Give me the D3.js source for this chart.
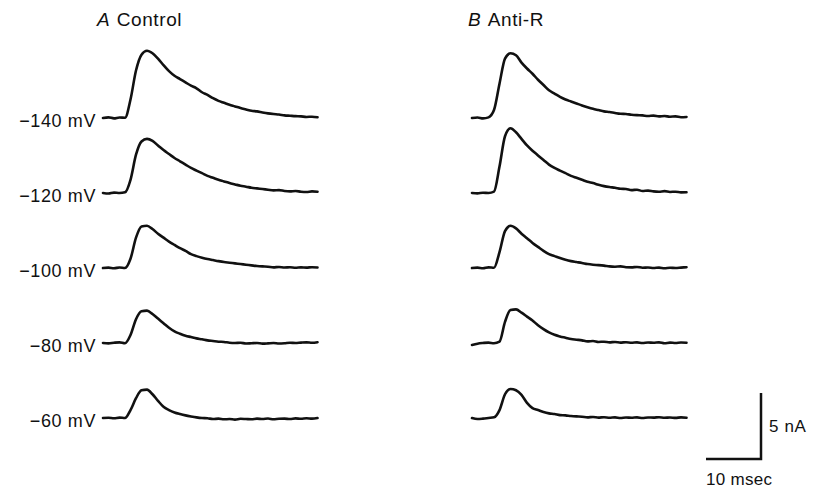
<!DOCTYPE html>
<html>
<head>
<meta charset="utf-8">
<script src="https://cdn.jsdelivr.net/npm/d3@7"></script>
<style>
  body { margin: 0; background: #fff; }
  text { font-family: "Liberation Sans", Arial, Helvetica, sans-serif; fill: #111; }
</style>
</head>
<body>
<div id="chart"></div>
<script>
// time base shared by every sweep (msec)
var times = d3.range(0, 40, 1);

// holding potentials, top to bottom
var voltages = [-140, -120, -100, -80, -60];
var voltageLabels = ["\u2212140 mV", "\u2212120 mV", "\u2212100 mV", "\u221280 mV", "\u221260 mV"];

// panel A: control currents (nA), one array per holding potential
var controlM140 = [0, 0.05, -0.03, 0.04, 0.02, 1.4, 3.6, 4.8, 5.1, 4.9, 4.5, 4.0, 3.55, 3.2, 2.95, 2.7, 2.45, 2.25, 1.95, 1.75, 1.5, 1.3, 1.15, 1.0, 0.88, 0.75, 0.65, 0.55, 0.5, 0.42, 0.35, 0.3, 0.26, 0.2, 0.17, 0.14, 0.12, 0.08, 0.1, 0.06];
var controlM120 = [0, -0.04, 0.03, 0, 0.05, 1.0, 2.9, 3.9, 4.1, 3.95, 3.6, 3.25, 2.95, 2.65, 2.4, 2.15, 1.9, 1.7, 1.5, 1.3, 1.15, 1.0, 0.88, 0.75, 0.65, 0.55, 0.48, 0.4, 0.35, 0.3, 0.25, 0.2, 0.22, 0.15, 0.12, 0.15, 0.1, 0.08, 0.12, 0.1];
var controlM100 = [0, 0.03, -0.02, 0.04, 0, 0.7, 2.3, 3.15, 3.2, 2.95, 2.6, 2.3, 2.0, 1.75, 1.5, 1.3, 1.05, 0.9, 0.78, 0.68, 0.6, 0.52, 0.45, 0.4, 0.35, 0.3, 0.25, 0.2, 0.15, 0.12, 0.1, 0.05, 0.08, 0.04, 0.06, 0.02, 0.05, 0.03, 0.06, 0.04];
var controlM80 = [0, -0.03, 0.02, 0.05, -0.02, 0.6, 1.8, 2.4, 2.45, 2.2, 1.85, 1.5, 1.15, 0.88, 0.7, 0.55, 0.45, 0.35, 0.28, 0.2, 0.15, 0.1, 0.08, 0.02, 0, 0.02, -0.04, -0.02, 0, -0.05, -0.03, 0, -0.04, -0.02, 0.02, 0, 0.03, 0.05, 0.02, 0.06];
var controlM60 = [0, 0.02, -0.02, 0.03, 0, 0.6, 1.5, 2.1, 2.15, 1.8, 1.3, 0.85, 0.6, 0.42, 0.3, 0.2, 0.12, 0.05, 0, -0.02, -0.08, -0.05, -0.1, -0.08, -0.12, -0.06, -0.08, -0.1, -0.05, -0.08, -0.04, -0.1, -0.06, -0.05, -0.08, -0.03, -0.06, -0.02, -0.05, 0];

// panel B: anti-R currents (nA)
var antiM140 = [0, 0.04, -0.03, 0.05, 0.6, 2.6, 4.5, 4.9, 4.75, 4.2, 3.75, 3.35, 2.9, 2.5, 2.1, 1.85, 1.6, 1.4, 1.25, 1.1, 0.95, 0.82, 0.7, 0.6, 0.5, 0.45, 0.38, 0.32, 0.3, 0.25, 0.22, 0.2, 0.15, 0.18, 0.12, 0.15, 0.1, 0.12, 0.06, 0.08];
var antiM120 = [0, -0.03, 0.02, 0, 0.1, 2.0, 4.3, 4.9, 4.6, 4.1, 3.6, 3.2, 2.85, 2.5, 2.15, 1.9, 1.7, 1.5, 1.3, 1.15, 1.0, 0.85, 0.75, 0.62, 0.52, 0.45, 0.4, 0.32, 0.3, 0.22, 0.25, 0.15, 0.18, 0.12, 0.1, 0.14, 0.08, 0.1, 0.05, 0.06];
var antiM100 = [0, 0.03, -0.02, 0.05, 0.02, 1.2, 2.8, 3.2, 3.0, 2.6, 2.25, 1.9, 1.6, 1.3, 1.05, 0.9, 0.75, 0.62, 0.52, 0.45, 0.38, 0.3, 0.25, 0.22, 0.18, 0.12, 0.1, 0.12, 0.06, 0.05, 0.08, 0.02, 0.04, 0, 0.03, -0.02, 0.02, 0, 0.03, 0.06];
var antiM80 = [-0.15, -0.05, 0, 0.03, -0.02, 0.1, 1.6, 2.5, 2.55, 2.3, 2.0, 1.7, 1.35, 1.05, 0.8, 0.62, 0.5, 0.4, 0.3, 0.25, 0.2, 0.12, 0.15, 0.08, 0.1, 0.05, 0.08, 0.03, 0.06, 0.02, 0.05, 0, 0.04, 0.02, 0.05, -0.02, 0.03, 0, 0.04, 0.02];
var antiM60 = [0, -0.08, -0.05, 0, 0.05, 0.6, 1.8, 2.2, 2.1, 1.75, 1.15, 0.75, 0.6, 0.45, 0.35, 0.3, 0.22, 0.2, 0.15, 0.12, 0.1, 0.05, 0.08, 0.03, 0.06, 0.02, 0.05, 0, 0.04, 0.02, 0.05, 0, 0.04, 0.03, 0.06, 0.02, 0.04, 0.01, 0.05, 0.02];

var panelTitles = [["A", "Control"], ["B", "Anti-R"]];
var controlSweeps = [controlM140, controlM120, controlM100, controlM80, controlM60];
var antiSweeps = [antiM140, antiM120, antiM100, antiM80, antiM60];

// scale bar sizes
var barTime = 10;   // msec
var barCurrent = 5; // nA

var width = 813, height = 491;

var svg = d3.select("#chart").append("svg")
	.attr("width", width)
	.attr("height", height);

// baseline of each sweep
var row = d3.scalePoint()
	.domain(voltages)
	.range([118, 418]);

// current (nA) to vertical offset from the baseline, inward current up
var amp = d3.scaleLinear()
	.domain([0, 5])
	.range([0, -66]);

var xA = d3.scaleLinear().domain([0, 39]).range([103, 317.5]);
var xB = d3.scaleLinear().domain([0, 39]).range([472, 686.5]);

function drawPanel(sweeps, x, title, titleX) {
	var g = svg.append("g");

	sweeps.forEach(function(vals, i) {
		var base = row(voltages[i]);
		var line = d3.line()
			.x(function(d, j) { return x(times[j]); })
			.y(function(d) { return base + amp(d); })
			.curve(d3.curveMonotoneX);
		g.append("path")
			.datum(vals)
			.attr("d", line)
			.attr("fill", "none")
			.attr("stroke", "#111")
			.attr("stroke-width", 2.6)
			.attr("stroke-linejoin", "round")
			.attr("stroke-linecap", "round");
	});

	var t = g.append("text")
		.attr("x", titleX)
		.attr("y", 26)
		.style("font-size", "19px");
	t.append("tspan").style("font-style", "italic").text(title[0]);
	t.append("tspan").attr("dx", 7).style("letter-spacing", "0.6px").text(title[1]);
}

drawPanel(controlSweeps, xA, panelTitles[0], 97);
drawPanel(antiSweeps, xB, panelTitles[1], 468);

// holding potential labels, left of panel A
svg.append("g").selectAll("text")
	.data(voltages)
	.enter().append("text")
	.attr("x", 96)
	.attr("y", function(d) { return row(d) + 9; })
	.attr("text-anchor", "end")
	.style("font-size", "18px")
	.style("letter-spacing", "0.6px")
	.text(function(d, i) { return voltageLabels[i]; });

// scale bar
var corner = [761, 459];
var barW = xB(barTime) - xB(0);
var barH = -amp(barCurrent);
svg.append("path")
	.attr("d", "M" + (corner[0] - barW) + "," + corner[1] + "H" + corner[0] + "V" + (corner[1] - barH))
	.attr("fill", "none")
	.attr("stroke", "#111")
	.attr("stroke-width", 2.5);

svg.append("text")
	.attr("x", corner[0] + 8)
	.attr("y", corner[1] - barH / 2 + 6)
	.style("font-size", "17px")
	.style("letter-spacing", "0.6px")
	.text(barCurrent + " nA");

svg.append("text")
	.attr("x", corner[0] - barW)
	.attr("y", corner[1] + 26)
	.style("font-size", "17px")
	.style("letter-spacing", "0.3px")
	.text(barTime + " msec");
</script>
</body>
</html>
